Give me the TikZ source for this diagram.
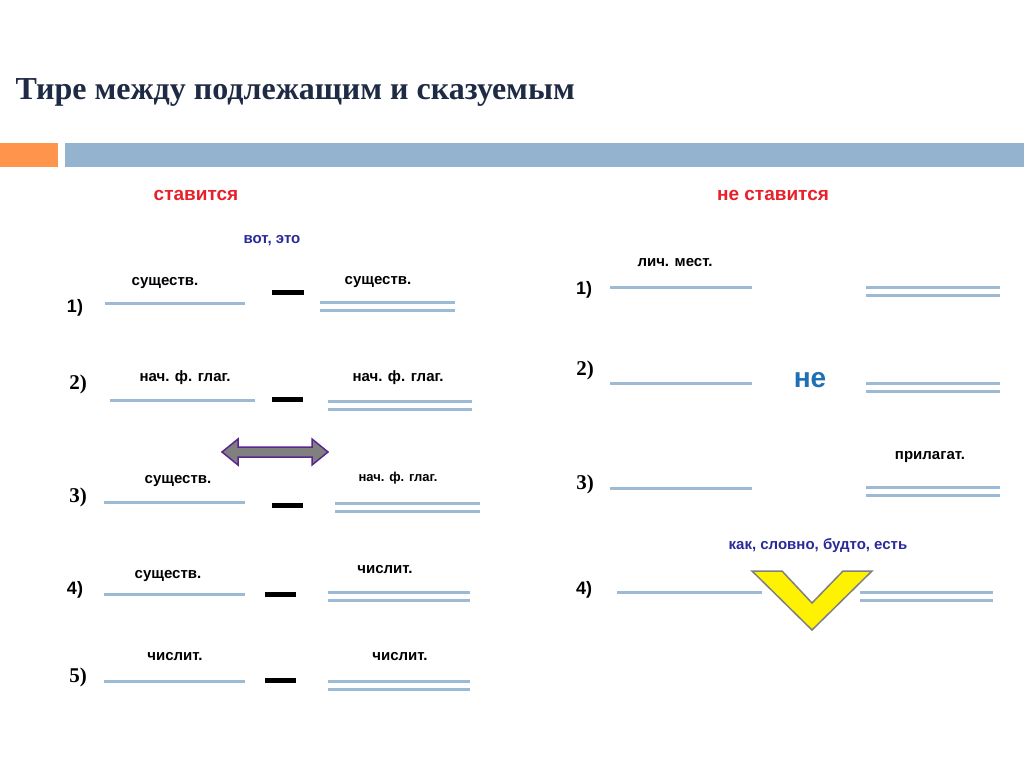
\documentclass[tikz,border=0pt]{standalone}
\usepackage{fontspec}
\setmainfont{Liberation Sans}
\newfontfamily\tms{Liberation Serif}
\begin{document}
\begin{tikzpicture}[x=1pt,y=-1pt,
 ln/.style={draw=lb,line width=3pt},
 dsh/.style={line width=5pt},
 lab/.style={font=\bfseries\fontsize{15}{15}\selectfont},
 num/.style={font=\bfseries\fontsize{18}{18}\selectfont},
 numt/.style={font=\tms\bfseries\fontsize{21}{21}\selectfont}]
\definecolor{lb}{HTML}{9DBAD5}
\definecolor{bar}{HTML}{93B3CF}
\definecolor{ttl}{HTML}{1F2A44}
\definecolor{rd}{HTML}{E8202A}
\definecolor{nv}{HTML}{2A2A9A}
\useasboundingbox (0,0) rectangle (1024,767);
\fill[white] (0,0) rectangle (1024,767);
\node[anchor=west,text=ttl,font=\tms\bfseries\fontsize{32}{32}\selectfont] (title) at (12,92) {Тире между подлежащим и сказуемым};
\fill[orange!80!red!70] (0,143) rectangle (58,167);
\fill[bar] (65,143) rectangle (1024,167);
\node[lab,text=rd,font=\bfseries\fontsize{19}{19}\selectfont] (h1) at (196,195) {ставится};
\node[lab,text=rd,font=\bfseries\fontsize{19}{19}\selectfont] (h2) at (773,195) {не ставится};
\node[lab,text=nv] (vot) at (272,241) {вот, это};
\newcommand\sgl[3]{\draw[ln] (#1,#3) -- (#2,#3);}
\newcommand\dbl[3]{\draw[ln] (#1,#3) -- (#2,#3); \draw[ln] (#1,#3+8) -- (#2,#3+8);}
\node[num] (n1) at (75,308) {1)};
\sgl{105}{245}{303} \node[lab] (a1) at (165,283) {существ.};
\draw[dsh] (272,292) -- (304,292);
\dbl{320}{455}{302} \node[lab] (b1) at (378,282) {существ.};
\node[numt] (n2) at (78,384) {2)};
\sgl{110}{255}{400} \node[lab] (a2) at (185,378) {нач. ф. глаг.};
\draw[dsh] (272,399) -- (303,399);
\dbl{328}{472}{401} \node[lab] (b2) at (398,378) {нач. ф. глаг.};
\filldraw[fill={rgb,255:red,128;green,128;blue,128},draw={rgb,255:red,90;green,40;blue,140},line width=1.5pt]
 (222,452) -- (238,439) -- (238,447) -- (312,447) -- (312,439) -- (328,452) -- (312,465) -- (312,457) -- (238,457) -- (238,465) -- cycle;
\node[numt] (n3) at (78,497) {3)};
\sgl{104}{245}{502} \node[lab] (a3) at (178,481) {существ.};
\draw[dsh] (272,505) -- (303,505);
\dbl{335}{480}{503} \node[lab,font=\bfseries\fontsize{13}{13}\selectfont] (b3) at (398,478) {нач. ф. глаг.};
\node[num] (n4) at (75,590) {4)};
\sgl{104}{245}{594} \node[lab] (a4) at (168,576) {существ.};
\draw[dsh] (265,594) -- (296,594);
\dbl{328}{470}{592} \node[lab] (b4) at (385,570) {числит.};
\node[numt] (n5) at (78,677) {5)};
\sgl{104}{245}{681} \node[lab] (a5) at (175,657) {числит.};
\draw[dsh] (265,680) -- (296,680);
\dbl{328}{470}{681} \node[lab] (b5) at (400,657) {числит.};
\node[num] (m1) at (584,290) {1)};
\sgl{610}{752}{287} \node[lab] (c1) at (675,263) {лич. мест.};
\dbl{866}{1000}{287}
\node[numt] (m2) at (585,370) {2)};
\sgl{610}{752}{383}
\node[text={rgb,255:red,31;green,111;blue,181},font=\bfseries\fontsize{28}{28}\selectfont] (ne) at (810,380) {не};
\dbl{866}{1000}{383}
\node[numt] (m3) at (585,484) {3)};
\sgl{610}{752}{488} \node[lab] (c3) at (930,457) {прилагат.};
\dbl{866}{1000}{487}
\node[num] (m4) at (584,590) {4)};
\sgl{617}{762}{592}
\node[lab,text=nv] (kak) at (818,546) {как, словно, будто, есть};
\dbl{860}{993}{592}
\filldraw[fill=yellow,draw=gray,line width=1.5pt] (752,571) -- (782,571) -- (812,603) -- (843,571) -- (872,571) -- (812,630) -- cycle;
\end{tikzpicture}
\end{document}
